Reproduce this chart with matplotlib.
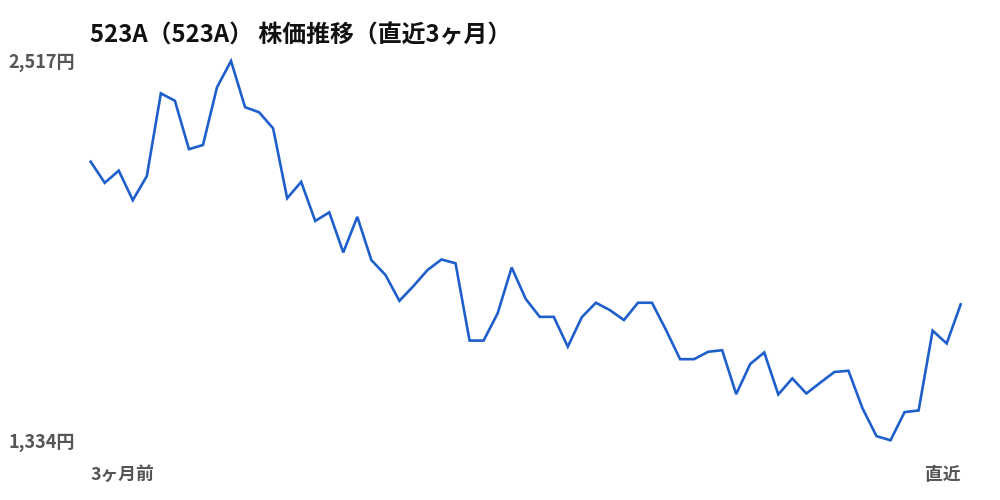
import matplotlib
matplotlib.use("Agg")
import matplotlib.pyplot as plt

plt.rcParams['font.family'] = ['Noto Sans CJK JP', 'DejaVu Sans']

title = "523A（523A） 株価推移（直近3ヶ月）"
y_max_label = "2,517円"
y_min_label = "1,334円"
x_start_label = "3ヶ月前"
x_end_label = "直近"

prices = [2203, 2137, 2175, 2083, 2158, 2416, 2393, 2242, 2255, 2435,
          2517, 2373, 2357, 2307, 2089, 2140, 2018, 2045, 1920, 2031,
          1896, 1850, 1769, 1815, 1865, 1898, 1886, 1645, 1645, 1730,
          1873, 1775, 1719, 1719, 1626, 1718, 1763, 1740, 1709, 1763,
          1763, 1678, 1587, 1587, 1610, 1615, 1478, 1572, 1608, 1477,
          1527, 1480, 1514, 1547, 1551, 1434, 1347, 1334, 1422, 1427,
          1676, 1636, 1758]

fig = plt.figure(figsize=(10, 5), dpi=100)
ax = fig.add_axes([0.0907, 1 - 440.3 / 500, 0.870, (440.3 - 61) / 500])
x = list(range(len(prices)))
ax.plot(x, prices, color="#1f5fcc", linewidth=1.9, clip_on=False, solid_joinstyle="miter")
ax.set_xlim(0, len(prices) - 1)
ax.set_ylim(1334, 2517)
ax.axis("off")

gray = "#555555"
fig.text(0.090, 1 - 35 / 500, title, fontsize=17.2, fontweight="bold", color="#111111",
         ha="left", va="center")
fig.text(0.075, 1 - 62 / 500, y_max_label, fontsize=13, fontweight="bold", color=gray,
         ha="right", va="center")
fig.text(0.075, 1 - 442 / 500, y_min_label, fontsize=13, fontweight="bold", color=gray,
         ha="right", va="center")
fig.text(0.0905, 1 - 475 / 500, x_start_label, fontsize=12.8, fontweight="bold", color=gray,
         ha="left", va="center")
fig.text(0.960, 1 - 475 / 500, x_end_label, fontsize=12.8, fontweight="bold", color=gray,
         ha="right", va="center")

fig.savefig("out.png", dpi=100)
